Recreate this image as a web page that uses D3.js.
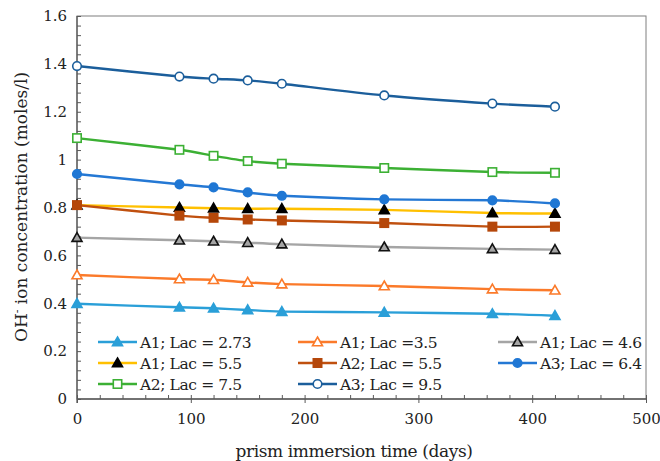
<!DOCTYPE html>
<html><head><meta charset="utf-8">
<script src="https://cdn.jsdelivr.net/npm/d3@7"></script>
<style>body{margin:0;background:#fff}svg{display:block}svg text{font-family:'DejaVu Serif';fill:#222}</style>
</head><body><svg id="c" width="660" height="461"></svg>
<script>
const days = [0, 90, 120, 150, 180, 270, 365, 420];
const seriesNames = ["A1; Lac = 2.73","A1; Lac =3.5","A1; Lac = 4.6","A1; Lac = 5.5","A2; Lac = 5.5","A3; Lac = 6.4","A2; Lac = 7.5","A3; Lac = 9.5"];
const lac273 = [0.398, 0.383, 0.379, 0.372, 0.365, 0.362, 0.356, 0.348];
const lac35  = [0.518, 0.501, 0.498, 0.487, 0.480, 0.472, 0.459, 0.454];
const lac46  = [0.674, 0.663, 0.659, 0.653, 0.647, 0.635, 0.627, 0.624];
const a1lac55 = [0.810, 0.800, 0.797, 0.795, 0.795, 0.790, 0.777, 0.775];
const a2lac55 = [0.810, 0.766, 0.757, 0.750, 0.746, 0.735, 0.720, 0.720];
const lac64  = [0.940, 0.897, 0.884, 0.863, 0.849, 0.834, 0.830, 0.817];
const lac75  = [1.090, 1.041, 1.016, 0.994, 0.983, 0.965, 0.948, 0.945];
const lac95  = [1.391, 1.347, 1.338, 1.331, 1.317, 1.268, 1.234, 1.221];
const xTicks = [0, 100, 200, 300, 400, 500];
const yTicks = [0, 0.2, 0.4, 0.6, 0.8, 1, 1.2, 1.4, 1.6];

const seriesValues = [lac273, lac35, lac46, a1lac55, a2lac55, lac64, lac75, lac95];
const styles = [
  {line:"#2a9fd8", marker:"tri", fill:"#2a9fd8", stroke:"#2a9fd8"},
  {line:"#fb7a2a", marker:"tri", fill:"#fff", stroke:"#fb7a2a"},
  {line:"#a5a5a5", marker:"tri", fill:"#a5a5a5", stroke:"#111"},
  {line:"#ffc000", marker:"tri", fill:"#000", stroke:"#000"},
  {line:"#c0500f", marker:"sq", fill:"#b5470a", stroke:"#b5470a"},
  {line:"#2478d4", marker:"circ", fill:"#1f77d4", stroke:"#1f77d4"},
  {line:"#3cb034", marker:"sq", fill:"#fff", stroke:"#3cb034"},
  {line:"#1b5e9b", marker:"circ", fill:"#fff", stroke:"#1b5e9b"}
];

const FONT = "DejaVu Serif";
const svg = d3.select("#c");
const L = 77, R = 646, T = 16, B = 399;
const x = d3.scaleLinear().domain([0, 500]).range([L, R]);
const y = d3.scaleLinear().domain([0, 1.6]).range([B, T]);

svg.append("rect").attr("x", L).attr("y", T).attr("width", R - L).attr("height", B - T)
  .attr("fill", "none").attr("stroke", "#7f7f7f").attr("stroke-width", 1);

const axisCol = "#595959";
const gy = svg.append("g").attr("transform", `translate(${L},0)`);
gy.call(d3.axisRight(y).tickValues(d3.range(0, 1.6001, 0.04)).tickSize(4).tickFormat(""));
gy.select(".domain").remove();
gy.selectAll("line").attr("stroke", axisCol);
const gyl = svg.append("g").attr("transform", `translate(${L - 7},0)`)
  .call(d3.axisLeft(y).tickValues(yTicks).tickSize(0).tickFormat(d => String(+d.toFixed(1))));
gyl.attr("font-family", FONT).attr("font-size", 15);
gyl.select(".domain").remove();
gyl.selectAll("text").attr("fill", "#222");
svg.append("line").attr("x1", L).attr("x2", L).attr("y1", T).attr("y2", B + 4).attr("stroke", axisCol).attr("stroke-width", 1.3);

const gxMinor = svg.append("g").attr("transform", `translate(0,${B})`);
gxMinor.call(d3.axisTop(x).tickValues(d3.range(0, 501, 20)).tickSize(4).tickFormat(""));
gxMinor.select(".domain").remove();
gxMinor.selectAll("line").attr("stroke", axisCol);
const gx = svg.append("g").attr("transform", `translate(0,${B})`);
gx.call(d3.axisBottom(x).tickValues(xTicks).tickSize(4).tickPadding(10));
gx.attr("font-family", FONT).attr("font-size", 15);
gx.select(".domain").remove();
gx.selectAll("line").attr("stroke", axisCol);
gx.selectAll("text").attr("fill", "#222");
svg.append("line").attr("x1", L).attr("x2", R).attr("y1", B).attr("y2", B).attr("stroke", axisCol).attr("stroke-width", 1.3);

svg.append("text").attr("x", 354).attr("y", 457).attr("text-anchor", "middle")
  .attr("font-family", FONT).attr("font-size", 17).attr("letter-spacing", -0.4)
  .text("prism immersion time (days)");
const yt = svg.append("text").attr("transform", "translate(27,207) rotate(-90)").attr("text-anchor", "middle")
  .attr("font-family", FONT).attr("font-size", 17);
yt.append("tspan").text("OH");
yt.append("tspan").attr("font-size", 11).attr("dy", -6).text("-");
yt.append("tspan").attr("dy", 6).text(" ion concentration (moles/l)");

function drawMarker(g, type, cx, cy, st) {
  if (type === "circ") {
    g.append("circle").attr("cx", cx).attr("cy", cy).attr("r", 4.3)
      .attr("fill", st.fill).attr("stroke", st.stroke).attr("stroke-width", 1.6);
  } else if (type === "sq") {
    g.append("rect").attr("x", cx - 4.2).attr("y", cy - 4.2).attr("width", 8.4).attr("height", 8.4)
      .attr("fill", st.fill).attr("stroke", st.stroke).attr("stroke-width", 1.6);
  } else {
    const s = 5;
    g.append("path").attr("d", `M${cx},${cy - s}L${cx + s},${cy + s * 0.75}L${cx - s},${cy + s * 0.75}Z`)
      .attr("fill", st.fill).attr("stroke", st.stroke).attr("stroke-width", 1.6);
  }
}

const line = d3.line().x(d => x(d[0])).y(d => y(d[1])).curve(d3.curveCardinal.tension(0.3));
seriesValues.forEach((vals, i) => {
  const st = styles[i];
  const pts = days.map((d, j) => [d, vals[j]]);
  const g = svg.append("g");
  g.append("path").attr("d", line(pts)).attr("fill", "none").attr("stroke", st.line).attr("stroke-width", 2.4);
  pts.forEach(p => drawMarker(g, st.marker, x(p[0]), y(p[1]), st));
});

const legX = [98, 298, 498], legY = [342, 363, 384];
seriesNames.forEach((name, i) => {
  const st = styles[i];
  const lx = legX[i % 3], ly = legY[Math.floor(i / 3)];
  const g = svg.append("g");
  g.append("line").attr("x1", lx).attr("x2", lx + 39).attr("y1", ly).attr("y2", ly).attr("stroke", st.line).attr("stroke-width", 2.4);
  drawMarker(g, st.marker, lx + 19.5, ly, st);
  g.append("text").attr("x", lx + 42).attr("y", ly + 5.5).attr("font-family", FONT).attr("font-size", 15.5)
    .attr("letter-spacing", -0.4).text(name);
});
</script></body></html>
